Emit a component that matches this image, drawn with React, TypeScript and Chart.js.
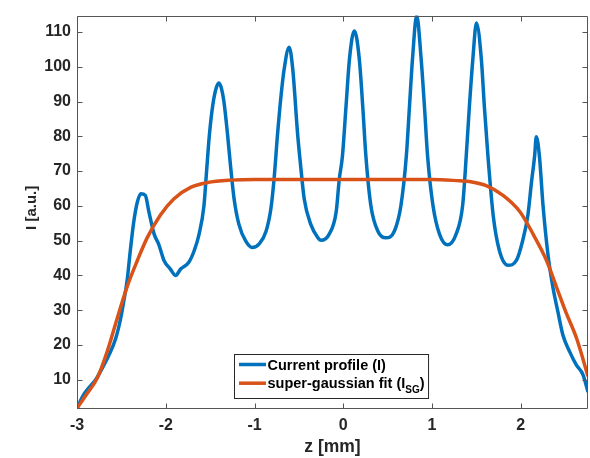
import React, { useEffect, useRef } from 'react';
import { Chart, registerables } from 'chart.js';

Chart.register(...registerables);

// Current profile (I)
const profileZ = [
  -3.0, -2.96, -2.92, -2.85, -2.79, -2.735, -2.64, -2.565, -2.51, -2.47, -2.435, -2.4, -2.36, -2.32, -2.28, -2.23,
  -2.19, -2.13, -2.08, -2.02, -1.95, -1.89, -1.83, -1.74, -1.68, -1.625, -1.57, -1.54, -1.51, -1.47, -1.43, -1.4,
  -1.37, -1.345, -1.305, -1.27, -1.23, -1.175, -1.1, -1.025, -0.95, -0.87, -0.815, -0.78, -0.74, -0.7, -0.665, -0.61,
  -0.57, -0.515, -0.48, -0.44, -0.365, -0.29, -0.25, -0.16, -0.08, -0.045, -0.01, 0.03, 0.07, 0.125, 0.18, 0.22,
  0.255, 0.31, 0.39, 0.48, 0.575, 0.65, 0.71, 0.745, 0.78, 0.827, 0.877, 0.915, 0.95, 1.01, 1.085, 1.175,
  1.27, 1.345, 1.385, 1.42, 1.46, 1.5, 1.555, 1.59, 1.63, 1.69, 1.76, 1.855, 1.95, 2.02, 2.08, 2.12,
  2.155, 2.175, 2.21, 2.25, 2.305, 2.36, 2.42, 2.475, 2.55, 2.625, 2.7, 2.757,
];
const profileI = [
  1.8, 4.0, 5.9, 8.2, 10.0, 12.4, 17.1, 21.8, 27.4, 33, 38.6, 47, 55.5, 61.1, 63.5, 63,
  58.3, 51.8, 49, 44.3, 41.9, 40, 41.9, 43.8, 47.1, 51.8, 60, 70, 80, 89, 94, 95.3,
  93.5, 90, 80.8, 71.4, 62, 54.6, 49.9, 48, 49, 52.7, 59.3, 67.7, 80.8, 92, 99.5, 105.6,
  99.5, 80.8, 71.4, 62, 54.6, 51, 50.1, 51.8, 58.3, 67.7, 74.2, 88.3, 102.3, 110.3, 102.3, 88.3,
  74.2, 60.2, 52.7, 50.8, 52.7, 60.2, 74.2, 88.3, 102.3, 114.7, 102.3, 88.3, 74.2, 60.2, 51.8, 48.8,
  51.8, 60.2, 74.2, 88.3, 102.3, 112.6, 102.3, 88.3, 74.2, 57, 47, 42.9, 44.3, 49.9, 57.4, 66.7,
  74.2, 79.9, 74.2, 60.2, 46.2, 36.8, 29.3, 22.8, 18.1, 14.3, 11.5, 6.5,
];

// super-gaussian fit (I_SG)
const fitZ = [
  -3.0, -2.89, -2.77, -2.66, -2.55, -2.435, -2.32, -2.21, -2.06, -1.91, -1.72, -1.53, -1.27, -1.0, 0, 1.0,
  1.31, 1.42, 1.61, 1.8, 1.99, 2.14, 2.29, 2.4, 2.51, 2.63, 2.757,
];
const fitI = [
  1.8, 5.9, 10.6, 18.1, 27.4, 36.8, 44.3, 50.8, 57.4, 62, 65.3, 66.7, 67.4, 67.6, 67.6, 67.6,
  67.2, 67.0, 65.8, 63, 58.3, 51.8, 44.3, 36.8, 29.3, 21.8, 11,
];

const xTicks = [-3, -2, -1, 0, 1, 2];
const yTicks = [10, 20, 30, 40, 50, 60, 70, 80, 90, 100, 110];
const seriesLabels = ['Current profile (I)', 'super-gaussian fit (I_{SG})'];
const seriesColors = ['#0072BD', '#D95319'];
const xTitle = 'z [mm]';
const yTitle = 'I [a.u.]';

const FONT = '"Liberation Sans", Arial, Helvetica, sans-serif';
const AXIS_COLOR = '#555555';

const matlabPlugin = {
  id: 'matlabAxesLegend',
  afterDraw(chart: any) {
    const { ctx, chartArea } = chart;
    const { left, right, top, bottom } = chartArea;
    const xs = chart.scales.x;
    const ys = chart.scales.y;
    ctx.save();
    // box + inward ticks
    ctx.strokeStyle = AXIS_COLOR;
    ctx.lineWidth = 1;
    const L = Math.round(left) + 0.5;
    const R = Math.round(right) - 0.5;
    const T = Math.round(top) + 0.5;
    const B = Math.round(bottom) - 0.5;
    ctx.beginPath();
    ctx.rect(L, T, R - L, B - T);
    const tl = 5;
    xs.ticks.forEach((t: any) => {
      const px = Math.round(xs.getPixelForValue(t.value)) + 0.5;
      ctx.moveTo(px, B);
      ctx.lineTo(px, B - tl);
      ctx.moveTo(px, T);
      ctx.lineTo(px, T + tl);
    });
    ys.ticks.forEach((t: any) => {
      const py = Math.round(ys.getPixelForValue(t.value)) + 0.5;
      ctx.moveTo(L, py);
      ctx.lineTo(L + tl, py);
      ctx.moveTo(R, py);
      ctx.lineTo(R - tl, py);
    });
    ctx.stroke();

    // y-axis title
    ctx.save();
    ctx.translate(32, (top + bottom) / 2 - 4.5);
    ctx.rotate(-Math.PI / 2);
    ctx.fillStyle = '#262626';
    ctx.font = `bold 15px ${FONT}`;
    ctx.textAlign = 'center';
    ctx.textBaseline = 'middle';
    ctx.fillText(yTitle, 0, 0);
    ctx.restore();

    // legend
    const mainFont = `bold 14.5px ${FONT}`;
    const subFont = `bold 10px ${FONT}`;
    const parse = (s: string) => {
      const m = s.match(/^(.*)_\{(.*?)\}(.*)$/);
      return m ? { a: m[1], sub: m[2], b: m[3] } : { a: s, sub: '', b: '' };
    };
    const widths = seriesLabels.map((lab) => {
      const p = parse(lab);
      ctx.font = mainFont;
      let w = ctx.measureText(p.a).width + ctx.measureText(p.b).width;
      if (p.sub) {
        ctx.font = subFont;
        w += ctx.measureText(p.sub).width;
      }
      return w;
    });
    const padL = 4.5;
    const lineLen = 27;
    const gap = 1.5;
    const padR = 4;
    const boxW = padL + lineLen + gap + Math.max(...widths) + padR;
    const boxH = 44;
    const cx = (left + right) / 2 - 1.5;
    const bx = Math.round(cx - boxW / 2) + 0.5;
    const by = Math.round(bottom - 11 - boxH) + 0.5;
    ctx.fillStyle = '#ffffff';
    ctx.fillRect(bx, by, boxW, boxH);
    ctx.strokeStyle = '#262626';
    ctx.lineWidth = 1;
    ctx.strokeRect(bx, by, boxW, boxH);
    const rowY = [by + 10, by + 28.7];
    seriesLabels.forEach((lab, i) => {
      const y = rowY[i];
      ctx.strokeStyle = seriesColors[i];
      ctx.lineWidth = 3.5;
      ctx.beginPath();
      ctx.moveTo(bx + padL, y);
      ctx.lineTo(bx + padL + lineLen, y);
      ctx.stroke();
      const p = parse(lab);
      let tx = bx + padL + lineLen + gap;
      const base = y + 5;
      ctx.fillStyle = '#000000';
      ctx.textBaseline = 'alphabetic';
      ctx.textAlign = 'left';
      ctx.font = mainFont;
      ctx.fillText(p.a, tx, base);
      tx += ctx.measureText(p.a).width;
      if (p.sub) {
        ctx.font = subFont;
        ctx.fillText(p.sub, tx, base + 5);
        tx += ctx.measureText(p.sub).width;
        ctx.font = mainFont;
        ctx.fillText(p.b, tx, base);
      }
    });
    ctx.restore();
  },
};

export default function App() {
  const canvasRef = useRef<HTMLCanvasElement | null>(null);

  useEffect(() => {
    const canvas = canvasRef.current;
    if (!canvas) return;
    const chart = new Chart(canvas, {
      type: 'line',
      data: {
        datasets: [
          {
            label: seriesLabels[0],
            data: profileZ.map((z, i) => ({ x: z, y: profileI[i] })),
            borderColor: seriesColors[0],
            backgroundColor: seriesColors[0],
            borderWidth: 3.5,
            pointRadius: 0,
            cubicInterpolationMode: 'monotone',
            order: 2,
          },
          {
            label: seriesLabels[1],
            data: fitZ.map((z, i) => ({ x: z, y: fitI[i] })),
            borderColor: seriesColors[1],
            backgroundColor: seriesColors[1],
            borderWidth: 3.5,
            pointRadius: 0,
            cubicInterpolationMode: 'monotone',
            order: 1,
          },
        ],
      },
      options: {
        responsive: false,
        animation: false,
        events: [],
        layout: { padding: { top: 6, right: 2, left: 0, bottom: 0 } },
        plugins: {
          legend: { display: false },
          tooltip: { enabled: false },
        },
        scales: {
          x: {
            type: 'linear',
            min: -3,
            max: 2.757,
            grid: { display: false, drawTicks: false, tickLength: 0 },
            border: { display: false },
            afterBuildTicks: (scale: any) => {
              scale.ticks = xTicks.map((v) => ({ value: v }));
            },
            afterFit: (scale: any) => {
              scale.height = 49;
            },
            ticks: {
              padding: 7,
              color: '#262626',
              font: { family: FONT, size: 16, weight: 'bold' },
              maxRotation: 0,
              autoSkip: false,
              callback: (v: any) => String(v),
            },
            title: {
              display: true,
              text: xTitle,
              color: '#262626',
              font: { family: FONT, size: 17.5, weight: 'bold' },
              padding: { top: 0, bottom: 0 },
            },
          },
          y: {
            type: 'linear',
            min: 1.6,
            max: 114.7,
            grid: { display: false, drawTicks: false, tickLength: 0 },
            border: { display: false },
            afterBuildTicks: (scale: any) => {
              scale.ticks = yTicks.map((v) => ({ value: v }));
            },
            afterFit: (scale: any) => {
              scale.width = 77;
            },
            ticks: {
              padding: 6,
              color: '#262626',
              font: { family: FONT, size: 16, weight: 'bold' },
              autoSkip: false,
              callback: (v: any) => String(v),
            },
            title: { display: false },
          },
        },
      },
      plugins: [matlabPlugin],
    } as any);
    return () => chart.destroy();
  }, []);

  return (
    <div style={{ position: 'fixed', left: 0, top: 0, width: 590, height: 458, background: '#ffffff' }}>
      <canvas ref={canvasRef} width={590} height={458} style={{ display: 'block' }} />
    </div>
  );
}
